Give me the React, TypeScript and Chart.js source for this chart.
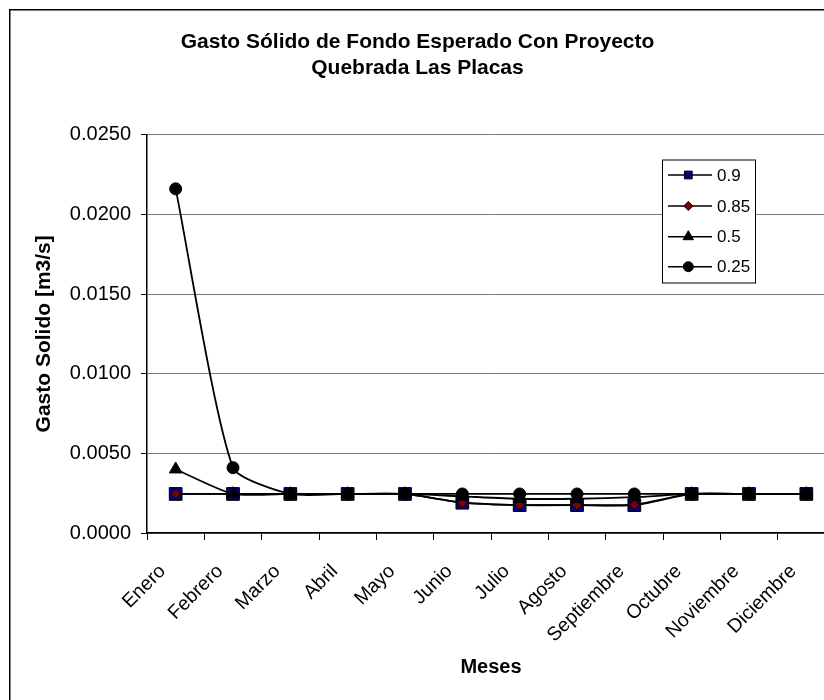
import React, { useEffect, useRef } from 'react';
import { Chart, registerables } from 'chart.js';

Chart.register(...registerables);

const months = ['Enero', 'Febrero', 'Marzo', 'Abril', 'Mayo', 'Junio', 'Julio', 'Agosto', 'Septiembre', 'Octubre', 'Noviembre', 'Diciembre'];
const serie090 = [0.00245, 0.00245, 0.00245, 0.00245, 0.00245, 0.0019, 0.00175, 0.00175, 0.00175, 0.00245, 0.00245, 0.00245];
const serie085 = [0.00245, 0.00245, 0.00245, 0.00245, 0.00245, 0.0019, 0.00175, 0.00175, 0.00178, 0.00245, 0.00245, 0.00245];
const serie050 = [0.0040, 0.00245, 0.00245, 0.00245, 0.00245, 0.0023, 0.00215, 0.00215, 0.00225, 0.00245, 0.00245, 0.00245];
const serie025 = [0.0216, 0.0041, 0.00245, 0.00245, 0.00245, 0.00245, 0.00245, 0.00245, 0.00245, 0.00245, 0.00245, 0.00245];
const yMin = 0;
const yMax = 0.025;
const yStep = 0.005;
const titleLines = ['Gasto Sólido de Fondo Esperado Con Proyecto', 'Quebrada Las Placas'];
const yTitle = 'Gasto Solido [m3/s]';
const xTitle = 'Meses';
const legendLabels = ['0.9', '0.85', '0.5', '0.25'];

const FONT = '"Liberation Sans", Arial, sans-serif';

type Mk = { style: string; fill: string; r: number };
const legendMarkers: Mk[] = [
  { style: 'rect', fill: '#000080', r: 5.5 },
  { style: 'rectRot', fill: '#800000', r: 4.5 },
  { style: 'triangle', fill: '#000000', r: 6 },
  { style: 'circle', fill: '#000000', r: 5 },
];

function drawMarker(ctx: CanvasRenderingContext2D, m: Mk, x: number, y: number) {
  ctx.beginPath();
  if (m.style === 'rect') {
    const s = m.r * Math.SQRT1_2;
    ctx.rect(x - s, y - s, 2 * s, 2 * s);
  } else if (m.style === 'rectRot') {
    ctx.moveTo(x, y - m.r);
    ctx.lineTo(x + m.r, y);
    ctx.lineTo(x, y + m.r);
    ctx.lineTo(x - m.r, y);
    ctx.closePath();
  } else if (m.style === 'triangle') {
    ctx.moveTo(x, y - m.r);
    ctx.lineTo(x + m.r * 0.866, y + m.r * 0.5);
    ctx.lineTo(x - m.r * 0.866, y + m.r * 0.5);
    ctx.closePath();
  } else {
    ctx.arc(x, y, m.r, 0, Math.PI * 2);
  }
  ctx.fillStyle = m.fill;
  ctx.fill();
  ctx.lineWidth = 1;
  ctx.strokeStyle = '#000';
  ctx.stroke();
}

const framePlugin = {
  id: 'frameAndLegend',
  beforeDraw(chart: any) {
    const ctx = chart.ctx as CanvasRenderingContext2D;
    ctx.save();
    ctx.fillStyle = '#ffffff';
    ctx.fillRect(0, 0, chart.width, chart.height);
    ctx.strokeStyle = '#000';
    ctx.lineWidth = 1.5;
    ctx.strokeRect(9.75, 9.75, 827, 760);
    ctx.restore();
  },
  afterDraw(chart: any) {
    const ctx = chart.ctx as CanvasRenderingContext2D;
    ctx.save();
    const bx = 662, by = 159.5, bw = 93, bh = 123;
    ctx.fillStyle = '#fff';
    ctx.fillRect(bx, by, bw, bh);
    ctx.strokeStyle = '#000';
    ctx.lineWidth = 1;
    ctx.strokeRect(bx + 0.5, by + 0.5, bw, bh);
    const ys = [175, 206, 236.7, 266.7];
    legendLabels.forEach((lab, i) => {
      const y = ys[i];
      ctx.beginPath();
      ctx.moveTo(668, y);
      ctx.lineTo(712, y);
      ctx.strokeStyle = '#000';
      ctx.lineWidth = 1.5;
      ctx.stroke();
      drawMarker(ctx, legendMarkers[i], 688.3, y);
      ctx.fillStyle = '#000';
      ctx.font = `17px ${FONT}`;
      ctx.textAlign = 'left';
      ctx.textBaseline = 'middle';
      ctx.fillText(lab, 717, y + 1);
    });
    ctx.restore();
  },
};

export default function App() {
  const ref = useRef<HTMLCanvasElement | null>(null);
  useEffect(() => {
    if (!ref.current) return;
    const mk = (label: string, data: number[], style: string, fill: string, r: number) => ({
      label,
      data,
      borderColor: '#000',
      borderWidth: 1.8,
      tension: 0.2,
      pointStyle: style,
      pointRadius: r,
      pointHoverRadius: r,
      pointBackgroundColor: fill,
      pointBorderColor: '#000',
      pointBorderWidth: 1,
      fill: false,
    });
    const chart = new Chart(ref.current, {
      type: 'line',
      data: {
        labels: months,
        datasets: [
          mk('0.25', serie025, 'circle', '#000000', 6),
          mk('0.5', serie050, 'triangle', '#000000', 7.3),
          mk('0.85', serie085, 'rectRot', '#800000', 5),
          mk('0.9', serie090, 'rect', '#000080', 9),
        ],
      },
      options: {
        responsive: false,
        animation: false,
        devicePixelRatio: 1,
        layout: { padding: { left: 0, right: 11, top: 0, bottom: 30 } },
        plugins: {
          legend: { display: false },
          tooltip: { enabled: false },
          title: {
            display: true,
            text: titleLines,
            color: '#000',
            font: { family: FONT, size: 21, weight: 'bold', lineHeight: 1.25 },
            padding: { top: 29.3, bottom: 52.9 },
          },
        },
        scales: {
          x: {
            type: 'category',
            offset: true,
            grid: { offset: true, drawOnChartArea: false, drawTicks: true, tickLength: 7, color: '#000', lineWidth: 1 },
            border: { display: true, color: '#000', width: 1.5 },
            ticks: { autoSkip: false, maxRotation: 45, minRotation: 45, color: '#000', font: { family: FONT, size: 19.5 }, padding: 20, labelOffset: -13 },
            title: { display: true, text: xTitle, color: '#000', font: { family: FONT, size: 20, weight: 'bold', lineHeight: 1.2 }, padding: { top: 0, bottom: 10.3 } },
            afterFit: (s: any) => { s.height = 157; },
          },
          y: {
            min: yMin,
            max: yMax,
            ticks: { stepSize: yStep, color: '#000', font: { family: FONT, size: 20 }, padding: 10, callback: (v: any) => Number(v).toFixed(4) },
            grid: { color: '#777', lineWidth: 1, drawTicks: true, tickLength: 6, tickColor: '#000' },
            border: { display: true, color: '#000', width: 1.5 },
            title: { display: true, text: yTitle, color: '#000', font: { family: FONT, size: 21, weight: 'bold', lineHeight: 1.2 }, padding: { top: 32, bottom: 0 } },
            afterFit: (s: any) => { s.width = 147; },
          },
        },
      },
      plugins: [framePlugin],
    } as any);
    return () => chart.destroy();
  }, []);
  return (
    <div style={{ position: 'absolute', left: 0, top: 0, width: 824, height: 700, overflow: 'hidden', background: '#fff' }}>
      <canvas ref={ref} width={846} height={720} style={{ display: 'block' }} />
    </div>
  );
}
